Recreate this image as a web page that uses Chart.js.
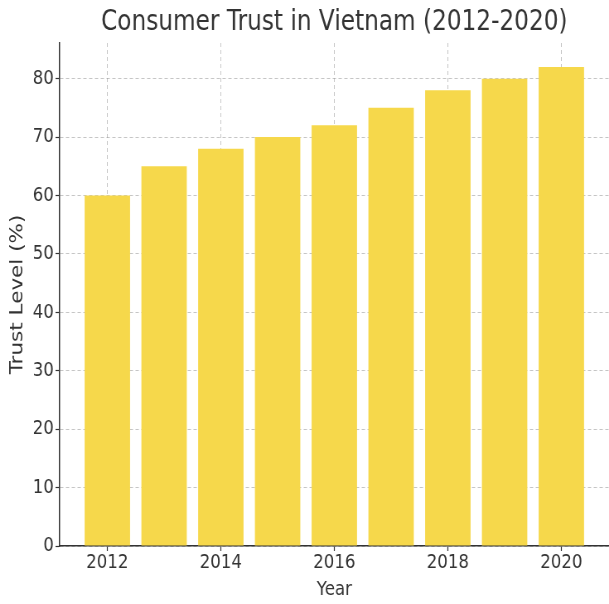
<!DOCTYPE html>
<html>
<head>
<meta charset="utf-8">
<title>Consumer Trust in Vietnam</title>
<script src="https://cdn.jsdelivr.net/npm/chart.js@4.4.0/dist/chart.umd.min.js"></script>
<style>
  html, body { margin: 0; padding: 0; background: #fff; }
</style>
</head>
<body>
<!-- drawn on a wider canvas and squeezed to 609px, which gives the narrow lettering -->
<canvas id="mycanvas" width="735" height="604" style="display:block;width:609px;height:604px"></canvas>
<script>
var years = [2012, 2013, 2014, 2015, 2016, 2017, 2018, 2019, 2020];
var trust = [60, 65, 68, 70, 72, 75, 78, 80, 82];
var yearTicks = [2012, 2014, 2016, 2018, 2020];
var trustTicks = [0, 10, 20, 30, 40, 50, 60, 70, 80];

Chart.defaults.font.family = "'DejaVu Sans', sans-serif";
Chart.defaults.color = '#333';

var points = [];
for (var i in years) {
	points.push({x: years[i], y: trust[i]});
}

var gridColor = 'rgba(150, 150, 150, 0.55)';

var ctx = document.getElementById('mycanvas');

var barGraph = new Chart(ctx, {
	type: 'bar',
	data: {
		datasets: [
			{
				label: 'Trust Level (%)',
				backgroundColor: '#F6D84B',
				borderWidth: 0,
				categoryPercentage: 0.8,
				barPercentage: 1.0,
				data: points
			}
		]
	},
	options: {
		responsive: false,
		devicePixelRatio: 1,
		animation: false,
		layout: { padding: 0 },
		plugins: {
			legend: { display: false },
			tooltip: { enabled: false },
			title: {
				display: true,
				text: 'Consumer Trust in Vietnam (2012-2020)',
				fullSize: false,
				color: '#333',
				font: { size: 28, weight: 'normal' },
				padding: { top: 6, bottom: 3.4 }
			}
		},
		scales: {
			x: {
				type: 'linear',
				min: 2011.16,
				max: 2020.84,
				offset: false,
				z: 1,
				afterFit: function(scale) { scale.height = 58; },
				afterBuildTicks: function(axis) {
					axis.ticks = yearTicks.map(function(v) { return {value: v}; });
				},
				ticks: {
					autoSkip: false,
					maxRotation: 0,
					padding: 0,
					font: { size: 20 },
					callback: function(value) { return String(value); }
				},
				grid: {
					offset: false,
					color: gridColor,
					lineWidth: 1,
					tickLength: 5,
					tickColor: '#333',
					tickWidth: 1.2
				},
				border: { color: '#333', width: 1.5, dash: [4, 3] },
				title: {
					display: true,
					text: 'Year',
					font: { size: 20 },
					padding: { top: 0, bottom: 2 }
				}
			},
			y: {
				min: 0,
				max: 86.1,
				z: 1,
				afterFit: function(scale) { scale.width = 72; },
				afterBuildTicks: function(axis) {
					axis.ticks = trustTicks.map(function(v) { return {value: v}; });
				},
				ticks: {
					padding: 2,
					font: { size: 20 },
					callback: function(value) { return String(value); }
				},
				grid: {
					color: gridColor,
					lineWidth: 1,
					tickLength: 5,
					tickColor: '#333',
					tickWidth: 1.2
				},
				border: { color: '#333', width: 1.5, dash: [4, 3] },
				title: {
					display: true,
					text: 'Trust Level (%)',
					font: { size: 21.5 },
					padding: { top: 8.8, bottom: 0 }
				}
			}
		}
	}
});
</script>
</body>
</html>
